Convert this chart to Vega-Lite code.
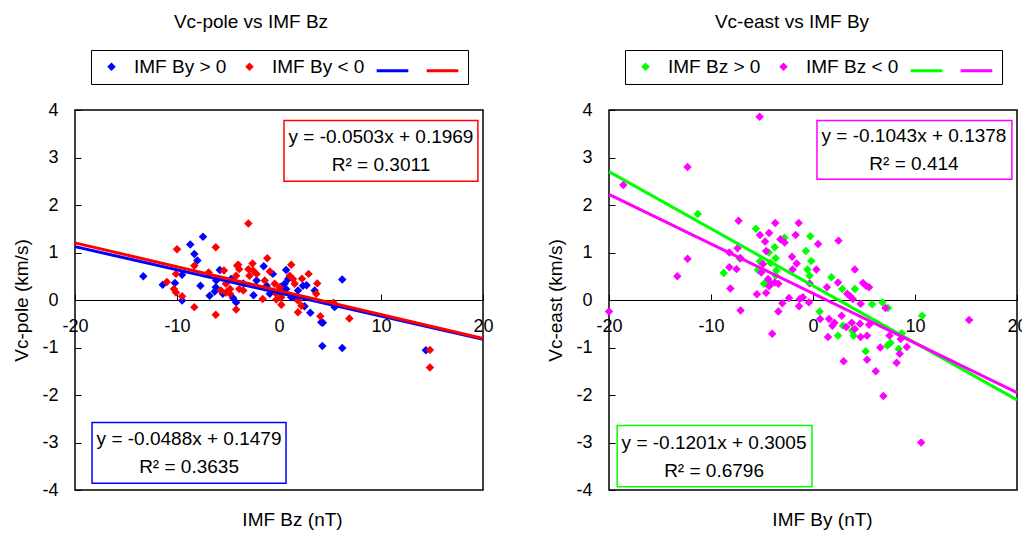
{
  "$schema": "https://vega.github.io/schema/vega-lite/v6.json",
  "background": "white",
  "padding": {"left": 12, "top": 11, "right": 5, "bottom": 5},
  "bounds": "flush",
  "spacing": 126,
  "config": {
    "font": "Liberation Sans",
    "view": {"stroke": "black", "strokeWidth": 1.5},
    "axis": {"labelFontSize": 18, "titleFontSize": 19, "titleFontWeight": "normal", "labelColor": "black", "titleColor": "black", "domainColor": "black", "tickColor": "black", "grid": false, "labelFont": "Liberation Sans", "titleFont": "Liberation Sans", "labelExpr": "'' + datum.value"},
    "title": {"fontSize": 19, "fontWeight": "normal", "font": "Liberation Sans", "color": "black"},
    "legend": {"labelFontSize": 19, "labelFont": "Liberation Sans", "labelColor": "black"}
  },
  "datasets": {
    "pole": [
      {"Bz": -13.3, "Vc": 0.50, "series": "IMF By > 0"},
      {"Bz": -11.4, "Vc": 0.32, "series": "IMF By > 0"},
      {"Bz": -10.2, "Vc": 0.36, "series": "IMF By > 0"},
      {"Bz": -9.5, "Vc": 0.53, "series": "IMF By > 0"},
      {"Bz": -9.5, "Vc": -0.01, "series": "IMF By > 0"},
      {"Bz": -8.7, "Vc": 1.17, "series": "IMF By > 0"},
      {"Bz": -8.3, "Vc": 0.97, "series": "IMF By > 0"},
      {"Bz": -8.0, "Vc": 0.83, "series": "IMF By > 0"},
      {"Bz": -7.45, "Vc": 1.33, "series": "IMF By > 0"},
      {"Bz": -7.7, "Vc": 0.30, "series": "IMF By > 0"},
      {"Bz": -6.8, "Vc": 0.09, "series": "IMF By > 0"},
      {"Bz": -6.15, "Vc": 0.41, "series": "IMF By > 0"},
      {"Bz": -6.2, "Vc": 0.27, "series": "IMF By > 0"},
      {"Bz": -6.3, "Vc": 0.18, "series": "IMF By > 0"},
      {"Bz": -5.8, "Vc": 0.63, "series": "IMF By > 0"},
      {"Bz": -5.5, "Vc": 0.13, "series": "IMF By > 0"},
      {"Bz": -4.7, "Vc": 0.44, "series": "IMF By > 0"},
      {"Bz": -4.5, "Vc": 0.04, "series": "IMF By > 0"},
      {"Bz": -4.2, "Vc": -0.05, "series": "IMF By > 0"},
      {"Bz": -3.5, "Vc": 0.35, "series": "IMF By > 0"},
      {"Bz": -2.5, "Vc": 0.10, "series": "IMF By > 0"},
      {"Bz": -2.2, "Vc": 0.41, "series": "IMF By > 0"},
      {"Bz": -1.5, "Vc": 0.71, "series": "IMF By > 0"},
      {"Bz": -1.2, "Vc": 0.30, "series": "IMF By > 0"},
      {"Bz": -0.9, "Vc": 0.13, "series": "IMF By > 0"},
      {"Bz": -0.6, "Vc": 0.55, "series": "IMF By > 0"},
      {"Bz": 0.2, "Vc": 0.28, "series": "IMF By > 0"},
      {"Bz": 0.7, "Vc": 0.63, "series": "IMF By > 0"},
      {"Bz": 0.9, "Vc": 0.44, "series": "IMF By > 0"},
      {"Bz": 0.55, "Vc": 0.34, "series": "IMF By > 0"},
      {"Bz": 0.7, "Vc": 0.23, "series": "IMF By > 0"},
      {"Bz": 1.2, "Vc": 0.06, "series": "IMF By > 0"},
      {"Bz": 1.5, "Vc": 0.05, "series": "IMF By > 0"},
      {"Bz": 1.86, "Vc": 0.20, "series": "IMF By > 0"},
      {"Bz": 2.35, "Vc": 0.30, "series": "IMF By > 0"},
      {"Bz": 2.7, "Vc": 0.31, "series": "IMF By > 0"},
      {"Bz": 2.5, "Vc": -0.13, "series": "IMF By > 0"},
      {"Bz": 3.07, "Vc": -0.27, "series": "IMF By > 0"},
      {"Bz": 3.5, "Vc": 0.20, "series": "IMF By > 0"},
      {"Bz": 4.15, "Vc": -0.47, "series": "IMF By > 0"},
      {"Bz": 4.3, "Vc": -0.48, "series": "IMF By > 0"},
      {"Bz": 4.25, "Vc": -0.97, "series": "IMF By > 0"},
      {"Bz": 5.45, "Vc": -0.15, "series": "IMF By > 0"},
      {"Bz": 6.2, "Vc": 0.43, "series": "IMF By > 0"},
      {"Bz": 6.2, "Vc": -1.01, "series": "IMF By > 0"},
      {"Bz": 14.4, "Vc": -1.06, "series": "IMF By > 0"},
      {"Bz": -11.0, "Vc": 0.38, "series": "IMF By < 0"},
      {"Bz": -10.3, "Vc": 0.23, "series": "IMF By < 0"},
      {"Bz": -10.1, "Vc": 0.55, "series": "IMF By < 0"},
      {"Bz": -10.1, "Vc": 0.16, "series": "IMF By < 0"},
      {"Bz": -10.0, "Vc": 1.07, "series": "IMF By < 0"},
      {"Bz": -9.5, "Vc": 0.08, "series": "IMF By < 0"},
      {"Bz": -8.3, "Vc": 0.72, "series": "IMF By < 0"},
      {"Bz": -8.3, "Vc": -0.15, "series": "IMF By < 0"},
      {"Bz": -6.9, "Vc": 0.58, "series": "IMF By < 0"},
      {"Bz": -6.2, "Vc": 1.11, "series": "IMF By < 0"},
      {"Bz": -6.2, "Vc": -0.31, "series": "IMF By < 0"},
      {"Bz": -5.7, "Vc": 0.20, "series": "IMF By < 0"},
      {"Bz": -5.4, "Vc": 0.62, "series": "IMF By < 0"},
      {"Bz": -5.2, "Vc": 0.34, "series": "IMF By < 0"},
      {"Bz": -5.2, "Vc": 0.16, "series": "IMF By < 0"},
      {"Bz": -4.8, "Vc": 0.13, "series": "IMF By < 0"},
      {"Bz": -4.8, "Vc": 0.23, "series": "IMF By < 0"},
      {"Bz": -4.2, "Vc": 0.51, "series": "IMF By < 0"},
      {"Bz": -4.2, "Vc": -0.20, "series": "IMF By < 0"},
      {"Bz": -4.1, "Vc": 0.72, "series": "IMF By < 0"},
      {"Bz": -4.0, "Vc": 0.74, "series": "IMF By < 0"},
      {"Bz": -3.9, "Vc": 0.65, "series": "IMF By < 0"},
      {"Bz": -3.9, "Vc": 0.23, "series": "IMF By < 0"},
      {"Bz": -3.5, "Vc": 0.20, "series": "IMF By < 0"},
      {"Bz": -3.0, "Vc": 1.61, "series": "IMF By < 0"},
      {"Bz": -3.0, "Vc": 0.65, "series": "IMF By < 0"},
      {"Bz": -2.9, "Vc": 0.51, "series": "IMF By < 0"},
      {"Bz": -2.6, "Vc": 0.77, "series": "IMF By < 0"},
      {"Bz": -2.55, "Vc": 0.62, "series": "IMF By < 0"},
      {"Bz": -2.2, "Vc": 0.55, "series": "IMF By < 0"},
      {"Bz": -1.6, "Vc": 0.02, "series": "IMF By < 0"},
      {"Bz": -1.4, "Vc": 0.41, "series": "IMF By < 0"},
      {"Bz": -1.15, "Vc": 0.88, "series": "IMF By < 0"},
      {"Bz": -0.9, "Vc": 0.60, "series": "IMF By < 0"},
      {"Bz": -0.42, "Vc": 0.34, "series": "IMF By < 0"},
      {"Bz": -0.27, "Vc": 0.13, "series": "IMF By < 0"},
      {"Bz": -0.26, "Vc": 0.01, "series": "IMF By < 0"},
      {"Bz": 0.07, "Vc": 0.27, "series": "IMF By < 0"},
      {"Bz": 0.23, "Vc": 0.06, "series": "IMF By < 0"},
      {"Bz": 0.23, "Vc": -0.10, "series": "IMF By < 0"},
      {"Bz": 1.05, "Vc": 0.51, "series": "IMF By < 0"},
      {"Bz": 1.2, "Vc": 0.74, "series": "IMF By < 0"},
      {"Bz": 1.37, "Vc": 0.44, "series": "IMF By < 0"},
      {"Bz": 1.54, "Vc": 0.34, "series": "IMF By < 0"},
      {"Bz": 1.86, "Vc": -0.01, "series": "IMF By < 0"},
      {"Bz": 1.86, "Vc": -0.26, "series": "IMF By < 0"},
      {"Bz": 2.2, "Vc": -0.12, "series": "IMF By < 0"},
      {"Bz": 2.25, "Vc": 0.45, "series": "IMF By < 0"},
      {"Bz": 2.9, "Vc": 0.55, "series": "IMF By < 0"},
      {"Bz": 3.65, "Vc": 0.13, "series": "IMF By < 0"},
      {"Bz": 3.75, "Vc": 0.35, "series": "IMF By < 0"},
      {"Bz": 4.05, "Vc": -0.34, "series": "IMF By < 0"},
      {"Bz": 5.35, "Vc": -0.06, "series": "IMF By < 0"},
      {"Bz": 6.9, "Vc": -0.39, "series": "IMF By < 0"},
      {"Bz": 14.8, "Vc": -1.05, "series": "IMF By < 0"},
      {"Bz": 14.8, "Vc": -1.42, "series": "IMF By < 0"}
    ],
    "poleFit": [
      {"Bz": -20, "Vc": 1.124, "series": "fitA"},
      {"Bz": 20, "Vc": -0.828, "series": "fitA"},
      {"Bz": -20, "Vc": 1.203, "series": "fitB"},
      {"Bz": 20, "Vc": -0.809, "series": "fitB"}
    ],
    "east": [
      {"By": -11.3, "Vc": 1.81, "series": "IMF Bz > 0"},
      {"By": -8.75, "Vc": 0.57, "series": "IMF Bz > 0"},
      {"By": -7.2, "Vc": 0.88, "series": "IMF Bz > 0"},
      {"By": -5.6, "Vc": 1.50, "series": "IMF Bz > 0"},
      {"By": -5.4, "Vc": 0.63, "series": "IMF Bz > 0"},
      {"By": -5.2, "Vc": 0.81, "series": "IMF Bz > 0"},
      {"By": -4.8, "Vc": 0.34, "series": "IMF Bz > 0"},
      {"By": -4.34, "Vc": 1.0, "series": "IMF Bz > 0"},
      {"By": -4.15, "Vc": 0.78, "series": "IMF Bz > 0"},
      {"By": -3.75, "Vc": 1.11, "series": "IMF Bz > 0"},
      {"By": -3.66, "Vc": 0.88, "series": "IMF Bz > 0"},
      {"By": -3.6, "Vc": 0.62, "series": "IMF Bz > 0"},
      {"By": -3.66, "Vc": 0.51, "series": "IMF Bz > 0"},
      {"By": -2.8, "Vc": 1.31, "series": "IMF Bz > 0"},
      {"By": -0.7, "Vc": 1.03, "series": "IMF Bz > 0"},
      {"By": -0.27, "Vc": 1.34, "series": "IMF Bz > 0"},
      {"By": -0.17, "Vc": 0.82, "series": "IMF Bz > 0"},
      {"By": -0.55, "Vc": 0.64, "series": "IMF Bz > 0"},
      {"By": -0.33, "Vc": 0.51, "series": "IMF Bz > 0"},
      {"By": 0.65, "Vc": -0.24, "series": "IMF Bz > 0"},
      {"By": 1.8, "Vc": 0.48, "series": "IMF Bz > 0"},
      {"By": 2.87, "Vc": 0.23, "series": "IMF Bz > 0"},
      {"By": 4.1, "Vc": 0.23, "series": "IMF Bz > 0"},
      {"By": 2.45, "Vc": -0.75, "series": "IMF Bz > 0"},
      {"By": 2.94, "Vc": -0.54, "series": "IMF Bz > 0"},
      {"By": 3.85, "Vc": -0.64, "series": "IMF Bz > 0"},
      {"By": 3.99, "Vc": -0.75, "series": "IMF Bz > 0"},
      {"By": 5.16, "Vc": -1.08, "series": "IMF Bz > 0"},
      {"By": 5.8, "Vc": -0.09, "series": "IMF Bz > 0"},
      {"By": 6.8, "Vc": -0.05, "series": "IMF Bz > 0"},
      {"By": 7.35, "Vc": -0.17, "series": "IMF Bz > 0"},
      {"By": 7.3, "Vc": -0.96, "series": "IMF Bz > 0"},
      {"By": 7.6, "Vc": -0.90, "series": "IMF Bz > 0"},
      {"By": 8.4, "Vc": -1.03, "series": "IMF Bz > 0"},
      {"By": 8.7, "Vc": -0.70, "series": "IMF Bz > 0"},
      {"By": 10.7, "Vc": -0.33, "series": "IMF Bz > 0"},
      {"By": -4.7, "Vc": 0.35, "series": "IMF Bz > 0"},
      {"By": -20.0, "Vc": -0.24, "series": "IMF Bz < 0"},
      {"By": -18.6, "Vc": 2.42, "series": "IMF Bz < 0"},
      {"By": -13.3, "Vc": 0.50, "series": "IMF Bz < 0"},
      {"By": -12.3, "Vc": 2.80, "series": "IMF Bz < 0"},
      {"By": -12.3, "Vc": 0.87, "series": "IMF Bz < 0"},
      {"By": -8.2, "Vc": 1.0, "series": "IMF Bz < 0"},
      {"By": -8.2, "Vc": 0.69, "series": "IMF Bz < 0"},
      {"By": -8.1, "Vc": 0.24, "series": "IMF Bz < 0"},
      {"By": -7.5, "Vc": 0.65, "series": "IMF Bz < 0"},
      {"By": -7.4, "Vc": 1.09, "series": "IMF Bz < 0"},
      {"By": -7.3, "Vc": 1.67, "series": "IMF Bz < 0"},
      {"By": -7.1, "Vc": 0.88, "series": "IMF Bz < 0"},
      {"By": -7.1, "Vc": -0.22, "series": "IMF Bz < 0"},
      {"By": -5.5, "Vc": 0.12, "series": "IMF Bz < 0"},
      {"By": -5.2, "Vc": 1.37, "series": "IMF Bz < 0"},
      {"By": -5.23, "Vc": 3.86, "series": "IMF Bz < 0"},
      {"By": -5.07, "Vc": 0.58, "series": "IMF Bz < 0"},
      {"By": -4.9, "Vc": 0.76, "series": "IMF Bz < 0"},
      {"By": -4.7, "Vc": 1.23, "series": "IMF Bz < 0"},
      {"By": -4.6, "Vc": 1.03, "series": "IMF Bz < 0"},
      {"By": -4.6, "Vc": 0.15, "series": "IMF Bz < 0"},
      {"By": -4.4, "Vc": 0.44, "series": "IMF Bz < 0"},
      {"By": -4.3, "Vc": 1.41, "series": "IMF Bz < 0"},
      {"By": -4.3, "Vc": 0.29, "series": "IMF Bz < 0"},
      {"By": -4.1, "Vc": 0.34, "series": "IMF Bz < 0"},
      {"By": -4.0, "Vc": -0.71, "series": "IMF Bz < 0"},
      {"By": -3.75, "Vc": 0.37, "series": "IMF Bz < 0"},
      {"By": -3.7, "Vc": 1.62, "series": "IMF Bz < 0"},
      {"By": -3.4, "Vc": 0.34, "series": "IMF Bz < 0"},
      {"By": -3.4, "Vc": -0.24, "series": "IMF Bz < 0"},
      {"By": -3.2, "Vc": 1.28, "series": "IMF Bz < 0"},
      {"By": -3.0, "Vc": -0.07, "series": "IMF Bz < 0"},
      {"By": -2.78, "Vc": 1.21, "series": "IMF Bz < 0"},
      {"By": -2.35, "Vc": 0.04, "series": "IMF Bz < 0"},
      {"By": -2.06, "Vc": 0.91, "series": "IMF Bz < 0"},
      {"By": -2.0, "Vc": 0.64, "series": "IMF Bz < 0"},
      {"By": -1.7, "Vc": 1.37, "series": "IMF Bz < 0"},
      {"By": -1.6, "Vc": 0.77, "series": "IMF Bz < 0"},
      {"By": -1.4, "Vc": 1.62, "series": "IMF Bz < 0"},
      {"By": -1.37, "Vc": -0.13, "series": "IMF Bz < 0"},
      {"By": -1.3, "Vc": 0.02, "series": "IMF Bz < 0"},
      {"By": -1.0, "Vc": 0.06, "series": "IMF Bz < 0"},
      {"By": -0.4, "Vc": -0.05, "series": "IMF Bz < 0"},
      {"By": -0.33, "Vc": 0.35, "series": "IMF Bz < 0"},
      {"By": 0.33, "Vc": 0.64, "series": "IMF Bz < 0"},
      {"By": 0.5, "Vc": 1.18, "series": "IMF Bz < 0"},
      {"By": 0.7, "Vc": -0.40, "series": "IMF Bz < 0"},
      {"By": 1.37, "Vc": 0.27, "series": "IMF Bz < 0"},
      {"By": 1.47, "Vc": -0.78, "series": "IMF Bz < 0"},
      {"By": 1.57, "Vc": -0.40, "series": "IMF Bz < 0"},
      {"By": 1.9, "Vc": -0.54, "series": "IMF Bz < 0"},
      {"By": 2.1, "Vc": -0.48, "series": "IMF Bz < 0"},
      {"By": 2.45, "Vc": 0.37, "series": "IMF Bz < 0"},
      {"By": 2.5, "Vc": 1.25, "series": "IMF Bz < 0"},
      {"By": 2.8, "Vc": -0.33, "series": "IMF Bz < 0"},
      {"By": 3.0, "Vc": -1.29, "series": "IMF Bz < 0"},
      {"By": 3.26, "Vc": -0.57, "series": "IMF Bz < 0"},
      {"By": 3.36, "Vc": 0.13, "series": "IMF Bz < 0"},
      {"By": 3.65, "Vc": 0.08, "series": "IMF Bz < 0"},
      {"By": 3.8, "Vc": -0.48, "series": "IMF Bz < 0"},
      {"By": 3.9, "Vc": 0.02, "series": "IMF Bz < 0"},
      {"By": 4.1, "Vc": 0.64, "series": "IMF Bz < 0"},
      {"By": 4.1, "Vc": -0.61, "series": "IMF Bz < 0"},
      {"By": 4.6, "Vc": -0.50, "series": "IMF Bz < 0"},
      {"By": 4.67, "Vc": -0.08, "series": "IMF Bz < 0"},
      {"By": 4.67, "Vc": -0.78, "series": "IMF Bz < 0"},
      {"By": 4.9, "Vc": 0.36, "series": "IMF Bz < 0"},
      {"By": 5.2, "Vc": 0.30, "series": "IMF Bz < 0"},
      {"By": 5.3, "Vc": -0.75, "series": "IMF Bz < 0"},
      {"By": 5.3, "Vc": -1.26, "series": "IMF Bz < 0"},
      {"By": 5.5, "Vc": 0.27, "series": "IMF Bz < 0"},
      {"By": 5.5, "Vc": -0.52, "series": "IMF Bz < 0"},
      {"By": 6.15, "Vc": -1.50, "series": "IMF Bz < 0"},
      {"By": 6.6, "Vc": -1.0, "series": "IMF Bz < 0"},
      {"By": 6.9, "Vc": -2.02, "series": "IMF Bz < 0"},
      {"By": 7.1, "Vc": -0.17, "series": "IMF Bz < 0"},
      {"By": 7.5, "Vc": -0.75, "series": "IMF Bz < 0"},
      {"By": 8.2, "Vc": -1.32, "series": "IMF Bz < 0"},
      {"By": 8.5, "Vc": -1.13, "series": "IMF Bz < 0"},
      {"By": 8.6, "Vc": -0.82, "series": "IMF Bz < 0"},
      {"By": 9.2, "Vc": -0.99, "series": "IMF Bz < 0"},
      {"By": 10.6, "Vc": -3.0, "series": "IMF Bz < 0"},
      {"By": 15.3, "Vc": -0.42, "series": "IMF Bz < 0"}
    ],
    "eastFit": [
      {"By": -20, "Vc": 2.703, "series": "fitA"},
      {"By": 20, "Vc": -2.102, "series": "fitA"},
      {"By": -20, "Vc": 2.224, "series": "fitB"},
      {"By": 20, "Vc": -1.948, "series": "fitB"}
    ],
    "poleEqA": [{"label": "y = -0.0488x + 0.1479\nR² = 0.3635"}],
    "poleEqB": [{"label": "y = -0.0503x + 0.1969\nR² = 0.3011"}],
    "eastEqA": [{"label": "y = -0.1201x + 0.3005\nR² = 0.6796"}],
    "eastEqB": [{"label": "y = -0.1043x + 0.1378\nR² = 0.414"}]
  },
  "hconcat": [
    {
      "width": 408,
      "height": 380,
      "title": {"text": "Vc-pole vs IMF Bz", "offset": 18, "dx": -28},
      "layer": [
        {
          "data": {"name": "pole"},
          "mark": {"type": "point", "shape": "diamond", "filled": true, "opacity": 1},
          "encoding": {
            "x": {"field": "Bz", "type": "quantitative", "scale": {"domain": [-20, 20], "nice": false},
                  "axis": {"title": "IMF Bz (nT)", "values": [-20, -10, 0, 10, 20], "offset": -190, "tickSize": -6, "labelPadding": 23, "titlePadding": 175, "titleX": 217, "labelFlush": false}},
            "y": {"field": "Vc", "type": "quantitative", "scale": {"domain": [-4, 4], "nice": false},
                  "axis": {"title": "Vc-pole (km/s)", "values": [-4, -3, -2, -1, 0, 1, 2, 3, 4], "tickSize": -6, "labelPadding": 23, "titlePadding": 10, "domain": false}},
            "color": {"field": "series", "type": "nominal",
                      "scale": {"domain": ["IMF By > 0", "IMF By < 0", "fitA", "fitB"], "range": ["#0000ff", "#ff0000", "#0000ff", "#ff0000"]},
                      "legend": {"orient": "none", "legendX": 16, "legendY": -60, "direction": "horizontal", "columns": 4, "title": null,
                                 "strokeColor": "black", "padding": 3, "labelOffset": 5, "columnPadding": 5,
                                 "labelExpr": "indexof(datum.label, 'fit') == 0 ? '' : datum.label"}},
            "shape": {"field": "series", "type": "nominal",
                      "scale": {"domain": ["IMF By > 0", "IMF By < 0", "fitA", "fitB"], "range": ["diamond", "diamond", "stroke", "stroke"]}},
            "size": {"field": "series", "type": "nominal",
                     "scale": {"type": "ordinal", "domain": ["IMF By > 0", "IMF By < 0", "fitA", "fitB"], "range": [72, 72, 1000, 1000]}},
            "strokeWidth": {"field": "series", "type": "nominal",
                     "scale": {"type": "ordinal", "domain": ["IMF By > 0", "IMF By < 0", "fitA", "fitB"], "range": [0, 0, 3, 3]}}
          }
        },
        {
          "data": {"name": "poleFit"},
          "mark": {"type": "line", "strokeWidth": 3},
          "encoding": {
            "x": {"field": "Bz", "type": "quantitative"},
            "y": {"field": "Vc", "type": "quantitative"},
            "color": {"field": "series", "type": "nominal"}
          }
        },
        {
          "data": {"name": "poleEqB"},
          "mark": {"type": "rect", "fill": "white", "stroke": "#ff0000", "strokeWidth": 1.5},
          "encoding": {"x": {"datum": 0.49}, "x2": {"datum": 19.5}, "y": {"datum": 3.78}, "y2": {"datum": 2.5}}
        },
        {
          "data": {"name": "poleEqB"},
          "mark": {"type": "text", "fontSize": 19, "lineBreak": "\n", "lineHeight": 28, "align": "center", "baseline": "middle", "color": "black"},
          "encoding": {"x": {"datum": 10.0}, "y": {"datum": 3.43}, "text": {"field": "label"}}
        },
        {
          "data": {"name": "poleEqA"},
          "mark": {"type": "rect", "fill": "white", "stroke": "#0000ff", "strokeWidth": 1.5},
          "encoding": {"x": {"datum": -18.33}, "x2": {"datum": 0.69}, "y": {"datum": -2.58}, "y2": {"datum": -3.86}}
        },
        {
          "data": {"name": "poleEqA"},
          "mark": {"type": "text", "fontSize": 19, "lineBreak": "\n", "lineHeight": 28, "align": "center", "baseline": "middle", "color": "black"},
          "encoding": {"x": {"datum": -8.82}, "y": {"datum": -2.93}, "text": {"field": "label"}}
        }
      ]
    },
    {
      "width": 408,
      "height": 380,
      "title": {"text": "Vc-east vs IMF By", "offset": 18, "dx": -21},
      "layer": [
        {
          "data": {"name": "east"},
          "mark": {"type": "point", "shape": "diamond", "filled": true, "opacity": 1},
          "encoding": {
            "x": {"field": "By", "type": "quantitative", "scale": {"domain": [-20, 20], "nice": false},
                  "axis": {"title": "IMF By (nT)", "values": [-20, -10, 0, 10, 20], "offset": -190, "tickSize": -6, "labelPadding": 23, "titlePadding": 175, "titleX": 213, "labelFlush": false}},
            "y": {"field": "Vc", "type": "quantitative", "scale": {"domain": [-4, 4], "nice": false},
                  "axis": {"title": "Vc-east (km/s)", "values": [-4, -3, -2, -1, 0, 1, 2, 3, 4], "tickSize": -6, "labelPadding": 23, "titlePadding": 10, "domain": false}},
            "color": {"field": "series", "type": "nominal",
                      "scale": {"domain": ["IMF Bz > 0", "IMF Bz < 0", "fitA", "fitB"], "range": ["#00ff00", "#ff00ff", "#00ff00", "#ff00ff"]},
                      "legend": {"orient": "none", "legendX": 16, "legendY": -60, "direction": "horizontal", "columns": 4, "title": null,
                                 "strokeColor": "black", "padding": 3, "labelOffset": 5, "columnPadding": 5,
                                 "labelExpr": "indexof(datum.label, 'fit') == 0 ? '' : datum.label"}},
            "shape": {"field": "series", "type": "nominal",
                      "scale": {"domain": ["IMF Bz > 0", "IMF Bz < 0", "fitA", "fitB"], "range": ["diamond", "diamond", "stroke", "stroke"]}},
            "size": {"field": "series", "type": "nominal",
                     "scale": {"type": "ordinal", "domain": ["IMF Bz > 0", "IMF Bz < 0", "fitA", "fitB"], "range": [72, 72, 1000, 1000]}},
            "strokeWidth": {"field": "series", "type": "nominal",
                     "scale": {"type": "ordinal", "domain": ["IMF Bz > 0", "IMF Bz < 0", "fitA", "fitB"], "range": [0, 0, 3, 3]}}
          }
        },
        {
          "data": {"name": "eastFit"},
          "mark": {"type": "line", "strokeWidth": 3},
          "encoding": {
            "x": {"field": "By", "type": "quantitative"},
            "y": {"field": "Vc", "type": "quantitative"},
            "color": {"field": "series", "type": "nominal"}
          }
        },
        {
          "data": {"name": "eastEqB"},
          "mark": {"type": "rect", "fill": "white", "stroke": "#ff00ff", "strokeWidth": 1.5},
          "encoding": {"x": {"datum": 0.39}, "x2": {"datum": 19.5}, "y": {"datum": 3.78}, "y2": {"datum": 2.54}}
        },
        {
          "data": {"name": "eastEqB"},
          "mark": {"type": "text", "fontSize": 19, "lineBreak": "\n", "lineHeight": 28, "align": "center", "baseline": "middle", "color": "black"},
          "encoding": {"x": {"datum": 9.9}, "y": {"datum": 3.45}, "text": {"field": "label"}}
        },
        {
          "data": {"name": "eastEqA"},
          "mark": {"type": "rect", "fill": "white", "stroke": "#00ff00", "strokeWidth": 1.5},
          "encoding": {"x": {"datum": -19.2}, "x2": {"datum": -0.1}, "y": {"datum": -2.64}, "y2": {"datum": -3.93}}
        },
        {
          "data": {"name": "eastEqA"},
          "mark": {"type": "text", "fontSize": 19, "lineBreak": "\n", "lineHeight": 28, "align": "center", "baseline": "middle", "color": "black"},
          "encoding": {"x": {"datum": -9.7}, "y": {"datum": -3.0}, "text": {"field": "label"}}
        }
      ]
    }
  ],
  "resolve": {"scale": {"color": "independent", "shape": "independent", "size": "independent", "strokeWidth": "independent", "x": "independent", "y": "independent"}, "legend": {"color": "independent", "shape": "independent", "size": "independent", "strokeWidth": "independent"}}
}
